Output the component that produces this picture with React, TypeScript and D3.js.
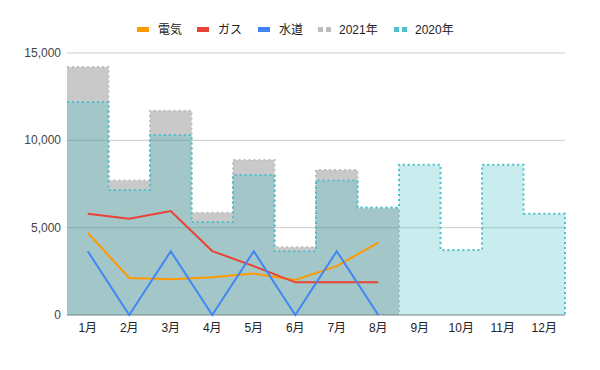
import * as d3 from "d3";

const months = ["1月", "2月", "3月", "4月", "5月", "6月", "7月", "8月", "9月", "10月", "11月", "12月"];
const denki = [4700, 2120, 2040, 2160, 2370, 2000, 2800, 4150];
const gas = [5800, 5510, 5950, 3660, 2800, 1870, 1870, 1870];
const suido = [3650, 0, 3650, 0, 3650, 0, 3650, 0];
const y2021 = [14200, 7700, 11700, 5850, 8880, 3880, 8300, 6100];
const y2020 = [12200, 7150, 10300, 5320, 8020, 3650, 7700, 6150, 8600, 3720, 8600, 5800];
const yTicks = [0, 5000, 10000, 15000];

const W = 600;
const H = 370;
const left = 67;
const right = 565;
const top = 53;
const bottom = 315;
const font = "Arial, 'Liberation Sans', 'Noto Sans CJK JP', sans-serif";

const series = [
  { name: "電気", color: "#ff9900", data: denki, kind: "line" },
  { name: "ガス", color: "#ea4335", data: gas, kind: "line" },
  { name: "水道", color: "#4285f4", data: suido, kind: "line" },
  { name: "2021年", color: "#bdbdbd", data: y2021, kind: "area" },
  { name: "2020年", color: "#4bbfca", data: y2020, kind: "area" },
];

const App = () => {
  const x = d3.scaleBand().domain(months).range([left, right]).padding(0);
  const y = d3.scaleLinear().domain([0, 15000]).range([bottom, top]);
  const bw = x.bandwidth();

  const stepPts = (vals: number[]) => {
    const pts: [number, number][] = [];
    vals.forEach((v, i) => {
      pts.push([x(months[i])!, y(v)]);
      pts.push([x(months[i])! + bw, y(v)]);
    });
    return pts;
  };

  const areaPath = (vals: number[]) => {
    const pts = stepPts(vals);
    const last = pts[pts.length - 1];
    return d3.line()(pts) + `L${last[0]},${y(0)}L${pts[0][0]},${y(0)}Z`;
  };
  const borderPath = (vals: number[]) => {
    const pts = stepPts(vals);
    const last = pts[pts.length - 1];
    pts.push([last[0], y(0)]);
    return d3.line()(pts)!;
  };

  const line = d3
    .line<number>()
    .x((_, i) => x(months[i])! + bw / 2)
    .y((d) => y(d));

  // legend layout
  const legendX = [137, 197, 258, 318, 394];

  return (
    <svg width={W} height={H} style={{ position: "absolute", left: 0, top: 0 }} fontFamily={font}>
      <rect width={W} height={H} fill="white" />
      {yTicks.map((t) => (
        <g key={t}>
          {t > 0 && <line x1={left} x2={right} y1={y(t)} y2={y(t)} stroke="#cccccc" />}
          <text x={61} y={y(t) + 4} textAnchor="end" fontSize={12} fill="#444">
            {d3.format(",")(t)}
          </text>
        </g>
      ))}

      {/* 2021 */}
      <path d={areaPath(y2021)} fill="#4d4d4d" fillOpacity={0.3} />
      <path d={borderPath(y2021)} fill="none" stroke="#bdbdbd" strokeWidth={2} strokeDasharray="2 3" />
      {/* 2020 */}
      <path d={areaPath(y2020)} fill="#4bbfca" fillOpacity={0.3} />
      <path d={borderPath(y2020)} fill="none" stroke="#4bbfca" strokeWidth={2} strokeDasharray="2 3" />

      <line x1={left} x2={right} y1={y(0)} y2={y(0)} stroke="#6f8587" strokeWidth={1} />

      {series
        .filter((s) => s.kind === "line")
        .map((s) => (
          <path key={s.name} d={line(s.data)!} fill="none" stroke={s.color} strokeWidth={2} />
        ))}

      {months.map((m) => (
        <text key={m} x={x(m)! + bw / 2} y={332} textAnchor="middle" fontSize={12} fill="#222">
          {m}
        </text>
      ))}

      {series.map((s, i) => (
        <g key={s.name} transform={`translate(${legendX[i]},0)`}>
          {s.kind === "line" ? (
            <rect x={0} y={27} width={12} height={5} fill={s.color} />
          ) : (
            <>
              <rect x={0} y={27} width={5} height={5} fill={s.color} />
              <rect x={8} y={27} width={5} height={5} fill={s.color} />
            </>
          )}
          <text x={21} y={34} fontSize={12} fill="#222">
            {s.name}
          </text>
        </g>
      ))}
    </svg>
  );
};

export default App;
